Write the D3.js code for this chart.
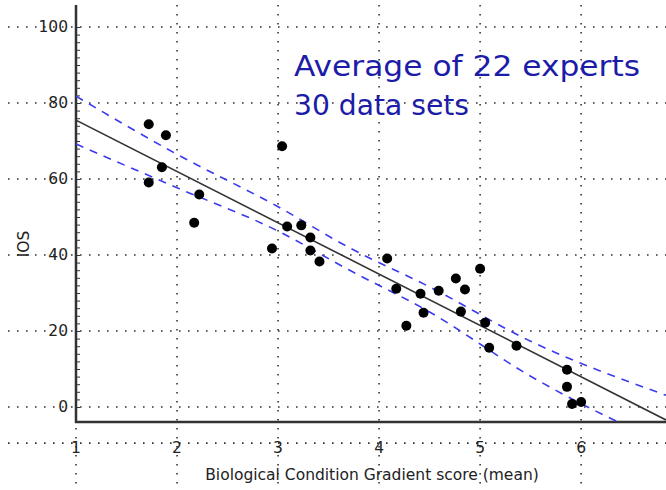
<!DOCTYPE html>
<html><head><meta charset="utf-8">
<script src="https://cdn.jsdelivr.net/npm/d3@7"></script>
<style>body{margin:0;background:#fff}svg{display:block}</style></head>
<body><svg id="c" width="666" height="490"></svg>
<script>
const xTicks=[1,2,3,4,5,6];
const yTicks=[0,20,40,60,80,100];
const ptsX=[1.72,1.89,1.72,1.85,2.22,2.17,3.04,2.94,3.09,3.23,3.32,3.32,3.41,4.08,4.17,4.27,4.41,4.44,4.59,4.76,4.85,4.81,5.0,5.05,5.09,5.36,5.86,5.86,5.91,6.0];
const ptsY=[74.4,71.5,59.1,63.1,55.9,48.5,68.6,41.7,47.5,47.8,44.6,41.2,38.3,39.1,31.1,21.4,29.8,24.8,30.6,33.8,30.9,25.1,36.4,22.2,15.6,16.1,9.8,5.3,0.8,1.3];
const fitX=[1,6.84];
const fitY=[75.5,-3.4];
const bandX=[1,2,3,3.7,4.5,5.5,6.84];
const bandUp=[81.8,66.5,52.7,42.0,31.6,17.3,3.1];
const bandLo=[69.2,57.7,46.3,36.1,25.0,8.1,-9.9];

const svg=d3.select("#c");
const x=d3.scaleLinear().domain([1,6.84]).range([76,666]);
const y=d3.scaleLinear().domain([0,100]).range([407,27]);
const grid=svg.append("g").attr("stroke","#333").attr("stroke-width",1.6).attr("stroke-dasharray","1.6,7.4");
xTicks.forEach(t=>grid.append("line").attr("x1",x(t)).attr("x2",x(t)).attr("y1",5).attr("y2",490));
yTicks.concat([-9.5]).forEach(t=>grid.append("line").attr("x1",8).attr("x2",666).attr("y1",y(t)).attr("y2",y(t)));
svg.append("line").attr("x1",76).attr("x2",76).attr("y1",5).attr("y2",423).attr("stroke","#333").attr("stroke-width",2.5);
svg.append("line").attr("x1",75).attr("x2",666).attr("y1",422).attr("y2",422).attr("stroke","#333").attr("stroke-width",2.5);
svg.append("g").attr("transform","translate(76,0)")
  .call(d3.axisRight(y).ticks(50).tickSize(4).tickFormat(""))
  .call(g=>{g.select(".domain").remove();g.selectAll("line").attr("stroke","#333");});
const lab=svg.append("g").attr("font-family","Verdana, DejaVu Sans, sans-serif").attr("font-size",15.5).attr("fill","#222");
yTicks.forEach(t=>lab.append("text").attr("x",68).attr("y",y(t)+5).attr("text-anchor","end").text(t));
xTicks.forEach(t=>lab.append("text").attr("x",x(t)).attr("y",453).attr("text-anchor","middle").text(t));
lab.append("text").attr("x",372).attr("y",480).attr("text-anchor","middle").text("Biological Condition Gradient score (mean)");
lab.append("text").attr("transform","translate(29,244) rotate(-90)").attr("text-anchor","middle").text("IOS");
svg.append("clipPath").attr("id","cp").append("rect").attr("x",76).attr("y",5).attr("width",590).attr("height",417);
const pl=svg.append("g").attr("clip-path","url(#cp)");
const ln=d3.line().x(d=>x(d[0])).y(d=>y(d[1])).curve(d3.curveMonotoneX);
[bandUp,bandLo].forEach(b=>pl.append("path").attr("d",ln(bandX.map((v,i)=>[v,b[i]]))).attr("fill","none").attr("stroke","#3b3bf0").attr("stroke-width",1.6).attr("stroke-dasharray","8,7"));
pl.append("path").attr("d",d3.line().x(d=>x(d[0])).y(d=>y(d[1]))(fitX.map((v,i)=>[v,fitY[i]]))).attr("fill","none").attr("stroke","#333").attr("stroke-width",1.6);
pl.selectAll("circle").data(ptsX).join("circle").attr("cx",d=>x(d)).attr("cy",(d,i)=>y(ptsY[i])).attr("r",5).attr("fill","#000");
const tt=svg.append("g").attr("font-family","DejaVu Sans, sans-serif").attr("font-size",28).attr("fill","#1c1ca8");
tt.append("text").attr("x",294).attr("y",76).attr("textLength",346).attr("lengthAdjust","spacingAndGlyphs").text("Average of 22 experts");
tt.append("text").attr("x",294).attr("y",115).attr("textLength",175).attr("lengthAdjust","spacingAndGlyphs").text("30 data sets");
</script></body></html>
